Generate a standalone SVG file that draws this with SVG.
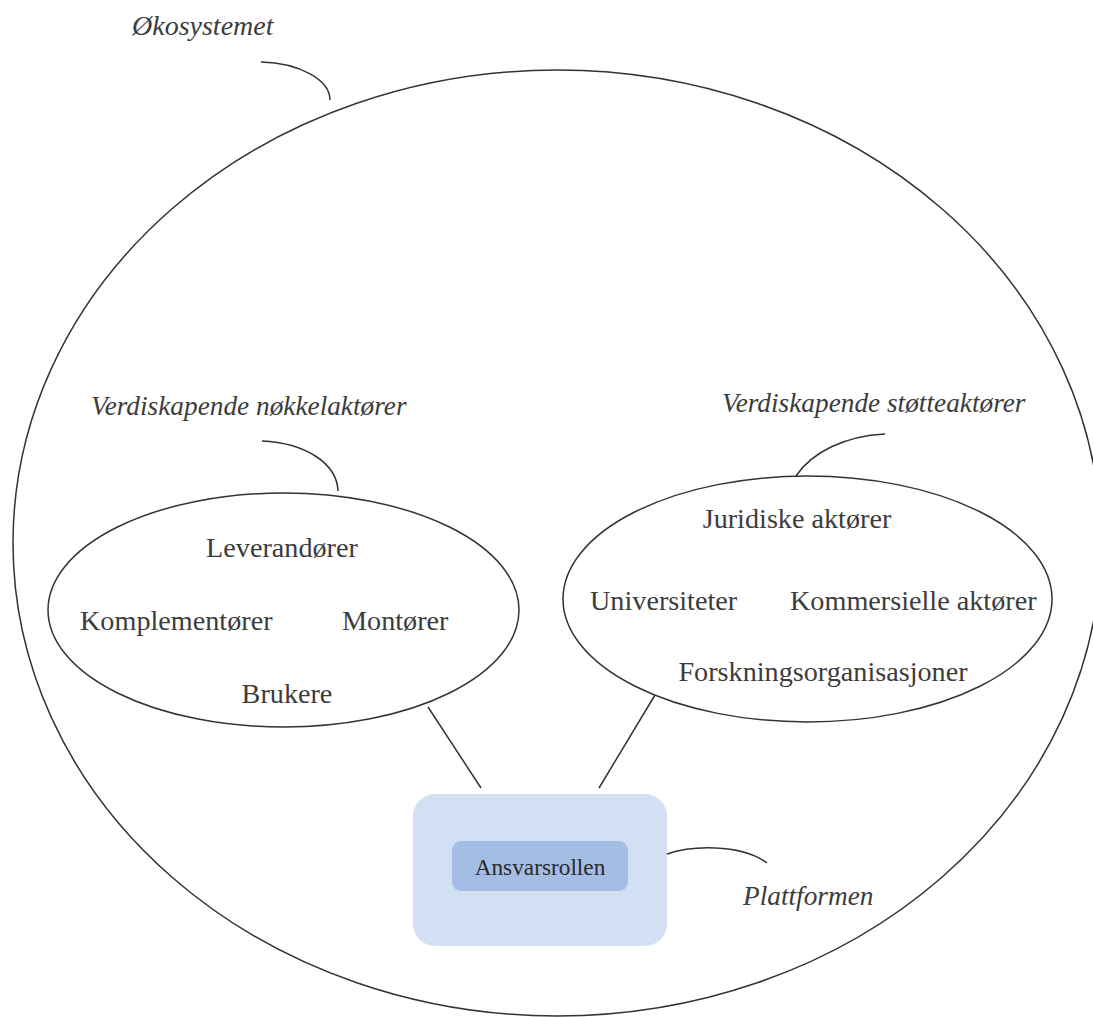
<svg xmlns="http://www.w3.org/2000/svg" width="1093" height="1017" viewBox="0 0 1093 1017">
<style>
.ln{fill:none;stroke:#333;stroke-width:1.5}
.t{font-family:"Liberation Serif","Times New Roman",serif;font-size:28.2px;fill:#3c3c3c}
.i{font-family:"Liberation Serif","Times New Roman",serif;font-size:27.3px;font-style:italic;fill:#3c3c3c}
</style>
<rect width="1093" height="1017" fill="#fff"/>
<g id="okosystemet">
<ellipse class="ln" cx="557" cy="543" rx="544" ry="473"/>
<text class="i" x="132" y="35" style="font-size:28px">Økosystemet</text>
</g>
<g id="nokkelaktorer">
<ellipse class="ln" cx="283.5" cy="610" rx="235.5" ry="117"/>
<text class="i" x="91" y="415">Verdiskapende nøkkelaktører</text>
<text class="t" x="282" y="557" text-anchor="middle">Leverandører</text>
<text class="t" x="80" y="630">Komplementører</text>
<text class="t" x="342" y="630">Montører</text>
<text class="t" x="287" y="703" text-anchor="middle">Brukere</text>
</g>
<g id="stotteaktorer">
<ellipse class="ln" cx="807.5" cy="599" rx="244.5" ry="123"/>
<text class="i" x="722" y="412">Verdiskapende støtteaktører</text>
<text class="t" x="797" y="528" text-anchor="middle">Juridiske aktører</text>
<text class="t" x="590" y="610">Universiteter</text>
<text class="t" x="790" y="610">Kommersielle aktører</text>
<text class="t" x="823" y="681" text-anchor="middle">Forskningsorganisasjoner</text>
</g>
<g id="plattformen">
<rect x="413" y="794" width="254" height="152" rx="22" fill="#d3dff2"/>
<text class="i" x="743" y="905">Plattformen</text>
</g>
<g id="ansvarsrollen">
<rect x="452" y="841" width="176" height="50" rx="9" fill="#a3bde4"/>
<text x="540" y="875" text-anchor="middle" font-family="Liberation Serif, Times New Roman, serif" font-size="23.3" fill="#2a2a2a">Ansvarsrollen</text>
</g>
<g id="connectors">
<path class="ln" d="M428,707 L481,788"/>
<path class="ln" d="M655,695 L599,788"/>
<path class="ln" d="M261,62 C300,63 330,80 330,100"/>
<path class="ln" d="M262,441 C305,443 337,463 338,491"/>
<path class="ln" d="M885,434 C845,436 812,452 796,476"/>
<path class="ln" d="M667,854 C690,846 740,843 767,863"/>
</g>
</svg>
